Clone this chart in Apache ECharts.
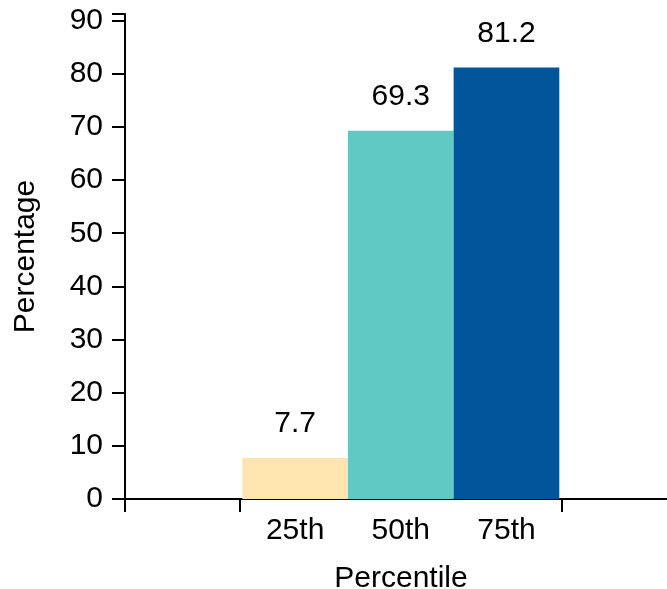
<!DOCTYPE html>
<html><head><meta charset="utf-8">
<script src="https://cdn.jsdelivr.net/npm/echarts@6/dist/echarts.min.js"></script>
<style>html,body{margin:0;padding:0;background:#fff}#c{width:667px;height:589px}</style>
</head><body><div id="c"></div>
<script>
// ---- data ----
const categories = ['25th', '50th', '75th'];
const percentages = [7.7, 69.3, 81.2];
const yTickValues = [0, 10, 20, 30, 40, 50, 60, 70, 80, 90];
const xTitle = 'Percentile';
const yTitle = 'Percentage';

// ---- layout / style ----
const colors = ['#FEE5AF', '#61C9C3', '#00559B'];
const FONT = 'Liberation Sans, Arial, sans-serif';
const FS = 30;
const yMax = 91.25;
const xMin = -0.61, xMax = 4.614;
const barPx = 105.67;
const xPositions = categories.map((c, i) => i + 1);
const xTickValues = [xMin, 0.472, 3.523];

const chart = echarts.init(document.getElementById('c'), null, {renderer: 'canvas'});
chart.setOption({
  animation: false,
  backgroundColor: '#fff',
  textStyle: {fontFamily: FONT},
  grid: {left: 125, right: -10, top: 14, bottom: 90, containLabel: false, outerBoundsMode: 'none'},
  xAxis: {
    type: 'value', min: xMin, max: xMax,
    name: xTitle, nameLocation: 'middle', nameGap: 65,
    nameTextStyle: {fontSize: FS, color: '#000', fontFamily: FONT},
    splitLine: {show: false},
    axisLine: {show: true, onZero: false, lineStyle: {color: '#000', width: 2}},
    axisTick: {show: true, length: 13, lineStyle: {color: '#000', width: 2}, customValues: xTickValues},
    axisLabel: {
      show: true, margin: 17, fontSize: FS, color: '#000', fontFamily: FONT,
      customValues: xPositions,
      formatter: v => categories[Math.round(v) - 1] || ''
    }
  },
  yAxis: {
    type: 'value', min: 0, max: yMax,
    name: yTitle, nameLocation: 'middle', nameGap: 84,
    nameTextStyle: {fontSize: FS, color: '#000', fontFamily: FONT},
    splitLine: {show: false},
    axisLine: {show: true, onZero: false, lineStyle: {color: '#000', width: 2}},
    axisTick: {show: true, length: 13, lineStyle: {color: '#000', width: 2}, customValues: yTickValues.concat([yMax])},
    axisLabel: {show: true, margin: 22, fontSize: FS, color: '#000', fontFamily: FONT, customValues: yTickValues}
  },
  series: [{
    type: 'bar',
    barWidth: barPx,
    data: percentages.map((v, i) => ({
      value: [xPositions[i], v],
      itemStyle: {color: colors[i]}
    })),
    label: {
      show: true, position: 'top', distance: 19,
      fontSize: FS, color: '#000', fontFamily: FONT,
      formatter: p => p.value[1].toFixed(1)
    }
  }]
});
</script>
</body></html>
